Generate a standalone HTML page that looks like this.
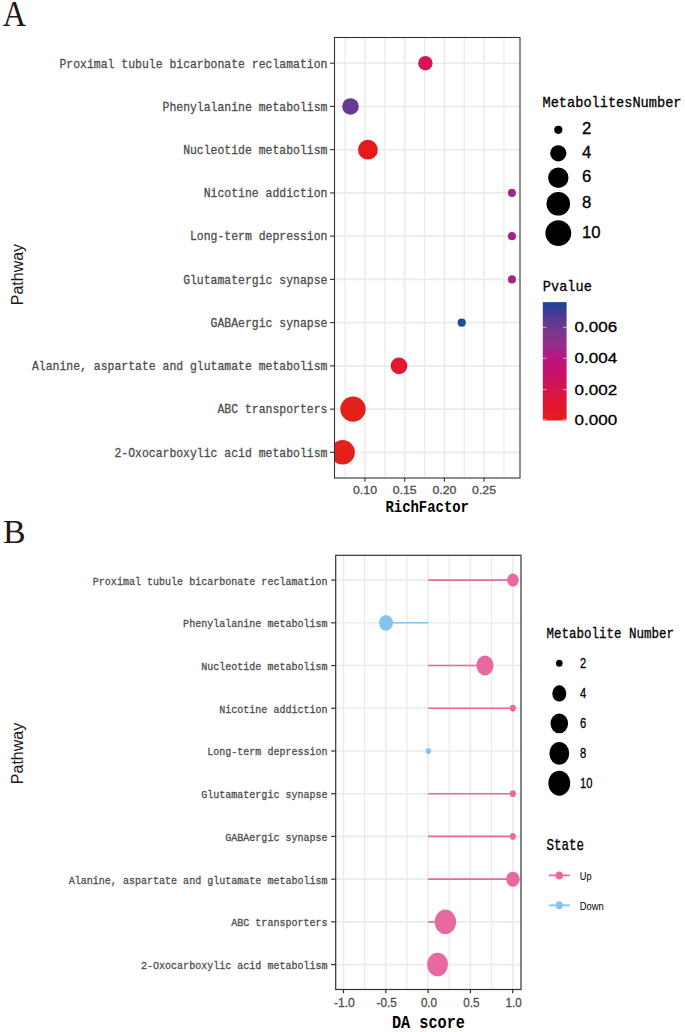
<!DOCTYPE html>
<html><head><meta charset="utf-8"><style>
html,body{margin:0;padding:0;background:#fff;}
body{width:685px;height:1032px;overflow:hidden;}
svg{display:block;}
</style></head><body>
<svg width="685" height="1032" viewBox="0 0 685 1032">
<rect width="685" height="1032" fill="#fff"/>
<text x="2.7" y="25.7" font-family="Liberation Serif, serif" font-size="34.8" fill="#231815" textLength="23.4" lengthAdjust="spacingAndGlyphs">A</text>
<g stroke="#EBEBEB">
<line x1="345.15" y1="37.5" x2="345.15" y2="478.0" stroke-width="1.3"/>
<line x1="384.85" y1="37.5" x2="384.85" y2="478.0" stroke-width="1.3"/>
<line x1="424.55" y1="37.5" x2="424.55" y2="478.0" stroke-width="1.3"/>
<line x1="464.25" y1="37.5" x2="464.25" y2="478.0" stroke-width="1.3"/>
<line x1="503.95" y1="37.5" x2="503.95" y2="478.0" stroke-width="1.3"/>
<line x1="365.00" y1="37.5" x2="365.00" y2="478.0" stroke-width="1.6"/>
<line x1="404.70" y1="37.5" x2="404.70" y2="478.0" stroke-width="1.6"/>
<line x1="444.40" y1="37.5" x2="444.40" y2="478.0" stroke-width="1.6"/>
<line x1="484.10" y1="37.5" x2="484.10" y2="478.0" stroke-width="1.6"/>
<line x1="334.5" y1="63.20" x2="520.0" y2="63.20" stroke-width="1.6"/>
<line x1="334.5" y1="106.44" x2="520.0" y2="106.44" stroke-width="1.6"/>
<line x1="334.5" y1="149.68" x2="520.0" y2="149.68" stroke-width="1.6"/>
<line x1="334.5" y1="192.92" x2="520.0" y2="192.92" stroke-width="1.6"/>
<line x1="334.5" y1="236.16" x2="520.0" y2="236.16" stroke-width="1.6"/>
<line x1="334.5" y1="279.40" x2="520.0" y2="279.40" stroke-width="1.6"/>
<line x1="334.5" y1="322.64" x2="520.0" y2="322.64" stroke-width="1.6"/>
<line x1="334.5" y1="365.88" x2="520.0" y2="365.88" stroke-width="1.6"/>
<line x1="334.5" y1="409.12" x2="520.0" y2="409.12" stroke-width="1.6"/>
<line x1="334.5" y1="452.36" x2="520.0" y2="452.36" stroke-width="1.6"/>
</g>
<clipPath id="cpA"><rect x="334.0" y="37.5" width="186.0" height="440.5"/></clipPath>
<g clip-path="url(#cpA)">
<circle cx="425.4" cy="63.20" r="7.2" fill="#D61650"/>
<circle cx="350.5" cy="106.44" r="8.3" fill="#663A92"/>
<circle cx="367.9" cy="149.68" r="9.9" fill="#E41A1C"/>
<circle cx="511.9" cy="192.92" r="4.05" fill="#A4248A"/>
<circle cx="511.9" cy="236.16" r="4.05" fill="#A4248A"/>
<circle cx="511.9" cy="279.40" r="4.05" fill="#A4248A"/>
<circle cx="461.7" cy="322.64" r="4.1" fill="#1B4A9E"/>
<circle cx="399.0" cy="365.88" r="8.3" fill="#E41830"/>
<circle cx="353.0" cy="409.12" r="12.7" fill="#E4201B"/>
<circle cx="342.65" cy="452.36" r="12.25" fill="#E4201B"/>
</g>
<rect x="334.5" y="37.5" width="185.5" height="440.5" fill="none" stroke="#333333" stroke-width="1.1"/>
<line x1="330" y1="63.20" x2="334.5" y2="63.20" stroke="#333333" stroke-width="1.1"/>
<text x="327.4" y="67.50" font-family="Liberation Mono, monospace" font-size="13.3" fill="#4D4D4D" stroke="#4D4D4D" stroke-width="0.3" text-anchor="end" textLength="267.93" lengthAdjust="spacingAndGlyphs">Proximal tubule bicarbonate reclamation</text>
<line x1="330" y1="106.44" x2="334.5" y2="106.44" stroke="#333333" stroke-width="1.1"/>
<text x="327.4" y="110.74" font-family="Liberation Mono, monospace" font-size="13.3" fill="#4D4D4D" stroke="#4D4D4D" stroke-width="0.3" text-anchor="end" textLength="164.88" lengthAdjust="spacingAndGlyphs">Phenylalanine metabolism</text>
<line x1="330" y1="149.68" x2="334.5" y2="149.68" stroke="#333333" stroke-width="1.1"/>
<text x="327.4" y="153.98" font-family="Liberation Mono, monospace" font-size="13.3" fill="#4D4D4D" stroke="#4D4D4D" stroke-width="0.3" text-anchor="end" textLength="144.27" lengthAdjust="spacingAndGlyphs">Nucleotide metabolism</text>
<line x1="330" y1="192.92" x2="334.5" y2="192.92" stroke="#333333" stroke-width="1.1"/>
<text x="327.4" y="197.22" font-family="Liberation Mono, monospace" font-size="13.3" fill="#4D4D4D" stroke="#4D4D4D" stroke-width="0.3" text-anchor="end" textLength="123.66" lengthAdjust="spacingAndGlyphs">Nicotine addiction</text>
<line x1="330" y1="236.16" x2="334.5" y2="236.16" stroke="#333333" stroke-width="1.1"/>
<text x="327.4" y="240.46" font-family="Liberation Mono, monospace" font-size="13.3" fill="#4D4D4D" stroke="#4D4D4D" stroke-width="0.3" text-anchor="end" textLength="137.40" lengthAdjust="spacingAndGlyphs">Long-term depression</text>
<line x1="330" y1="279.40" x2="334.5" y2="279.40" stroke="#333333" stroke-width="1.1"/>
<text x="327.4" y="283.70" font-family="Liberation Mono, monospace" font-size="13.3" fill="#4D4D4D" stroke="#4D4D4D" stroke-width="0.3" text-anchor="end" textLength="144.27" lengthAdjust="spacingAndGlyphs">Glutamatergic synapse</text>
<line x1="330" y1="322.64" x2="334.5" y2="322.64" stroke="#333333" stroke-width="1.1"/>
<text x="327.4" y="326.94" font-family="Liberation Mono, monospace" font-size="13.3" fill="#4D4D4D" stroke="#4D4D4D" stroke-width="0.3" text-anchor="end" textLength="116.79" lengthAdjust="spacingAndGlyphs">GABAergic synapse</text>
<line x1="330" y1="365.88" x2="334.5" y2="365.88" stroke="#333333" stroke-width="1.1"/>
<text x="327.4" y="370.18" font-family="Liberation Mono, monospace" font-size="13.3" fill="#4D4D4D" stroke="#4D4D4D" stroke-width="0.3" text-anchor="end" textLength="295.41" lengthAdjust="spacingAndGlyphs">Alanine, aspartate and glutamate metabolism</text>
<line x1="330" y1="409.12" x2="334.5" y2="409.12" stroke="#333333" stroke-width="1.1"/>
<text x="327.4" y="413.42" font-family="Liberation Mono, monospace" font-size="13.3" fill="#4D4D4D" stroke="#4D4D4D" stroke-width="0.3" text-anchor="end" textLength="109.92" lengthAdjust="spacingAndGlyphs">ABC transporters</text>
<line x1="330" y1="452.36" x2="334.5" y2="452.36" stroke="#333333" stroke-width="1.1"/>
<text x="327.4" y="456.66" font-family="Liberation Mono, monospace" font-size="13.3" fill="#4D4D4D" stroke="#4D4D4D" stroke-width="0.3" text-anchor="end" textLength="212.97" lengthAdjust="spacingAndGlyphs">2-Oxocarboxylic acid metabolism</text>
<line x1="365.00" y1="478.0" x2="365.00" y2="481.8" stroke="#333333" stroke-width="1.1"/>
<text x="365.00" y="493.6" font-family="Liberation Sans, sans-serif" font-size="11.8" fill="#4D4D4D" stroke="#4D4D4D" stroke-width="0.3" text-anchor="middle" textLength="24" lengthAdjust="spacingAndGlyphs">0.10</text>
<line x1="404.70" y1="478.0" x2="404.70" y2="481.8" stroke="#333333" stroke-width="1.1"/>
<text x="404.70" y="493.6" font-family="Liberation Sans, sans-serif" font-size="11.8" fill="#4D4D4D" stroke="#4D4D4D" stroke-width="0.3" text-anchor="middle" textLength="24" lengthAdjust="spacingAndGlyphs">0.15</text>
<line x1="444.40" y1="478.0" x2="444.40" y2="481.8" stroke="#333333" stroke-width="1.1"/>
<text x="444.40" y="493.6" font-family="Liberation Sans, sans-serif" font-size="11.8" fill="#4D4D4D" stroke="#4D4D4D" stroke-width="0.3" text-anchor="middle" textLength="24" lengthAdjust="spacingAndGlyphs">0.20</text>
<line x1="484.10" y1="478.0" x2="484.10" y2="481.8" stroke="#333333" stroke-width="1.1"/>
<text x="484.10" y="493.6" font-family="Liberation Sans, sans-serif" font-size="11.8" fill="#4D4D4D" stroke="#4D4D4D" stroke-width="0.3" text-anchor="middle" textLength="24" lengthAdjust="spacingAndGlyphs">0.25</text>
<text x="427.2" y="511.9" font-family="Liberation Mono, monospace" font-weight="bold" font-size="16" fill="#000" text-anchor="middle" textLength="83.5" lengthAdjust="spacingAndGlyphs">RichFactor</text>
<text transform="translate(22.6,274.6) rotate(-90)" font-family="Liberation Sans, sans-serif" font-size="16" fill="#1a1a1a" text-anchor="middle">Pathway</text>
<text x="542.5" y="107" font-family="Liberation Mono, monospace" font-size="14.6" fill="#000" stroke="#000" stroke-width="0.3" textLength="139" lengthAdjust="spacingAndGlyphs">MetabolitesNumber</text>
<circle cx="558.3" cy="129.8" r="4.1" fill="#000"/>
<text x="581.9" y="134.10" font-family="Liberation Sans, sans-serif" font-size="15.6" fill="#000" stroke="#000" stroke-width="0.3" textLength="9.30" lengthAdjust="spacingAndGlyphs">2</text>
<circle cx="558.3" cy="153.3" r="8.1" fill="#000"/>
<text x="581.9" y="157.60" font-family="Liberation Sans, sans-serif" font-size="15.6" fill="#000" stroke="#000" stroke-width="0.3" textLength="9.30" lengthAdjust="spacingAndGlyphs">4</text>
<circle cx="558.3" cy="177.8" r="10.2" fill="#000"/>
<text x="581.9" y="182.10" font-family="Liberation Sans, sans-serif" font-size="15.6" fill="#000" stroke="#000" stroke-width="0.3" textLength="9.30" lengthAdjust="spacingAndGlyphs">6</text>
<circle cx="558.3" cy="203.8" r="11.8" fill="#000"/>
<text x="581.9" y="208.10" font-family="Liberation Sans, sans-serif" font-size="15.6" fill="#000" stroke="#000" stroke-width="0.3" textLength="9.30" lengthAdjust="spacingAndGlyphs">8</text>
<circle cx="558.3" cy="233.2" r="12.9" fill="#000"/>
<text x="581.9" y="237.50" font-family="Liberation Sans, sans-serif" font-size="15.6" fill="#000" stroke="#000" stroke-width="0.3" textLength="18.60" lengthAdjust="spacingAndGlyphs">10</text>
<text x="542.8" y="290.9" font-family="Liberation Mono, monospace" font-size="14.6" fill="#000" stroke="#000" stroke-width="0.3" textLength="49" lengthAdjust="spacingAndGlyphs">Pvalue</text>
<defs><linearGradient id="pg" x1="0" y1="0" x2="0" y2="1">
<stop offset="0.0034" stop-color="rgb(30, 70, 155)"/>
<stop offset="0.0498" stop-color="rgb(45, 65, 150)"/>
<stop offset="0.0921" stop-color="rgb(65, 60, 148)"/>
<stop offset="0.1343" stop-color="rgb(85, 58, 148)"/>
<stop offset="0.1765" stop-color="rgb(98, 56, 145)"/>
<stop offset="0.2356" stop-color="rgb(118, 56, 142)"/>
<stop offset="0.3201" stop-color="rgb(138, 48, 140)"/>
<stop offset="0.3623" stop-color="rgb(150, 45, 140)"/>
<stop offset="0.4468" stop-color="rgb(178, 28, 132)"/>
<stop offset="0.5228" stop-color="rgb(190, 18, 122)"/>
<stop offset="0.6157" stop-color="rgb(202, 18, 104)"/>
<stop offset="0.7002" stop-color="rgb(210, 20, 85)"/>
<stop offset="0.7846" stop-color="rgb(218, 22, 65)"/>
<stop offset="0.8522" stop-color="rgb(225, 22, 50)"/>
<stop offset="0.9282" stop-color="rgb(227, 25, 40)"/>
<stop offset="1.0000" stop-color="rgb(230, 30, 30)"/>
</linearGradient></defs>
<rect x="542.8" y="302.1" width="23.8" height="118.40" fill="url(#pg)"/>
<line x1="542.8" y1="327.3" x2="546.5" y2="327.3" stroke="#fff" stroke-opacity="0.6" stroke-width="1"/>
<line x1="562.9" y1="327.3" x2="566.6" y2="327.3" stroke="#fff" stroke-opacity="0.6" stroke-width="1"/>
<text x="574.6" y="332.30" font-family="Liberation Sans, sans-serif" font-size="15.2" fill="#000" stroke="#000" stroke-width="0.3" textLength="42.6" lengthAdjust="spacingAndGlyphs">0.006</text>
<line x1="542.8" y1="358.3" x2="546.5" y2="358.3" stroke="#fff" stroke-opacity="0.6" stroke-width="1"/>
<line x1="562.9" y1="358.3" x2="566.6" y2="358.3" stroke="#fff" stroke-opacity="0.6" stroke-width="1"/>
<text x="574.6" y="363.30" font-family="Liberation Sans, sans-serif" font-size="15.2" fill="#000" stroke="#000" stroke-width="0.3" textLength="42.6" lengthAdjust="spacingAndGlyphs">0.004</text>
<line x1="542.8" y1="389.6" x2="546.5" y2="389.6" stroke="#fff" stroke-opacity="0.6" stroke-width="1"/>
<line x1="562.9" y1="389.6" x2="566.6" y2="389.6" stroke="#fff" stroke-opacity="0.6" stroke-width="1"/>
<text x="574.6" y="394.60" font-family="Liberation Sans, sans-serif" font-size="15.2" fill="#000" stroke="#000" stroke-width="0.3" textLength="42.6" lengthAdjust="spacingAndGlyphs">0.002</text>
<line x1="542.8" y1="419.6" x2="546.5" y2="419.6" stroke="#fff" stroke-opacity="0.6" stroke-width="1"/>
<line x1="562.9" y1="419.6" x2="566.6" y2="419.6" stroke="#fff" stroke-opacity="0.6" stroke-width="1"/>
<text x="574.6" y="424.60" font-family="Liberation Sans, sans-serif" font-size="15.2" fill="#000" stroke="#000" stroke-width="0.3" textLength="42.6" lengthAdjust="spacingAndGlyphs">0.000</text>
<text x="2.9" y="542.7" font-family="Liberation Serif, serif" font-size="33.6" fill="#231815" textLength="22.6" lengthAdjust="spacingAndGlyphs">B</text>
<g stroke="#EBEBEB">
<line x1="364.65" y1="555.3" x2="364.65" y2="989.5" stroke-width="1.3"/>
<line x1="406.95" y1="555.3" x2="406.95" y2="989.5" stroke-width="1.3"/>
<line x1="449.25" y1="555.3" x2="449.25" y2="989.5" stroke-width="1.3"/>
<line x1="491.55" y1="555.3" x2="491.55" y2="989.5" stroke-width="1.3"/>
<line x1="343.50" y1="555.3" x2="343.50" y2="989.5" stroke-width="1.6"/>
<line x1="385.80" y1="555.3" x2="385.80" y2="989.5" stroke-width="1.6"/>
<line x1="428.10" y1="555.3" x2="428.10" y2="989.5" stroke-width="1.6"/>
<line x1="470.40" y1="555.3" x2="470.40" y2="989.5" stroke-width="1.6"/>
<line x1="512.70" y1="555.3" x2="512.70" y2="989.5" stroke-width="1.6"/>
<line x1="335.7" y1="580.10" x2="521.0" y2="580.10" stroke-width="1.6"/>
<line x1="335.7" y1="622.82" x2="521.0" y2="622.82" stroke-width="1.6"/>
<line x1="335.7" y1="665.54" x2="521.0" y2="665.54" stroke-width="1.6"/>
<line x1="335.7" y1="708.26" x2="521.0" y2="708.26" stroke-width="1.6"/>
<line x1="335.7" y1="750.98" x2="521.0" y2="750.98" stroke-width="1.6"/>
<line x1="335.7" y1="793.70" x2="521.0" y2="793.70" stroke-width="1.6"/>
<line x1="335.7" y1="836.42" x2="521.0" y2="836.42" stroke-width="1.6"/>
<line x1="335.7" y1="879.14" x2="521.0" y2="879.14" stroke-width="1.6"/>
<line x1="335.7" y1="921.86" x2="521.0" y2="921.86" stroke-width="1.6"/>
<line x1="335.7" y1="964.58" x2="521.0" y2="964.58" stroke-width="1.6"/>
</g>
<line x1="428.1" y1="580.10" x2="512.9" y2="580.10" stroke="#E868A0" stroke-width="1.6"/>
<ellipse cx="512.9" cy="580.10" rx="5.8" ry="6.5" fill="#E868A0"/>
<line x1="428.1" y1="622.82" x2="386.0" y2="622.82" stroke="#86C4EC" stroke-width="1.6"/>
<ellipse cx="386.0" cy="622.82" rx="7.0" ry="7.9" fill="#86C4EC"/>
<line x1="428.1" y1="665.54" x2="485.0" y2="665.54" stroke="#E868A0" stroke-width="1.6"/>
<ellipse cx="485.0" cy="665.54" rx="8.55" ry="9.95" fill="#E868A0"/>
<line x1="428.1" y1="708.26" x2="512.9" y2="708.26" stroke="#E868A0" stroke-width="1.6"/>
<ellipse cx="512.9" cy="708.26" rx="3.0" ry="3.4" fill="#E868A0"/>
<line x1="428.1" y1="750.98" x2="428.4" y2="750.98" stroke="#86C4EC" stroke-width="1.6"/>
<ellipse cx="428.4" cy="750.98" rx="2.7" ry="3.0" fill="#86C4EC"/>
<line x1="428.1" y1="793.70" x2="512.9" y2="793.70" stroke="#E868A0" stroke-width="1.6"/>
<ellipse cx="512.9" cy="793.70" rx="3.0" ry="3.4" fill="#E868A0"/>
<line x1="428.1" y1="836.42" x2="512.9" y2="836.42" stroke="#E868A0" stroke-width="1.6"/>
<ellipse cx="512.9" cy="836.42" rx="3.0" ry="3.4" fill="#E868A0"/>
<line x1="428.1" y1="879.14" x2="512.9" y2="879.14" stroke="#E868A0" stroke-width="1.6"/>
<ellipse cx="512.9" cy="879.14" rx="6.75" ry="7.5" fill="#E868A0"/>
<line x1="428.1" y1="921.86" x2="445.4" y2="921.86" stroke="#E868A0" stroke-width="1.6"/>
<ellipse cx="445.4" cy="921.86" rx="10.7" ry="12.35" fill="#E868A0"/>
<line x1="428.1" y1="964.58" x2="437.6" y2="964.58" stroke="#E868A0" stroke-width="1.6"/>
<ellipse cx="437.6" cy="964.58" rx="10.4" ry="11.75" fill="#E868A0"/>
<rect x="335.7" y="555.3" width="185.30" height="434.20" fill="none" stroke="#333333" stroke-width="1.2"/>
<line x1="331.1" y1="580.10" x2="335.7" y2="580.10" stroke="#333333" stroke-width="1.2"/>
<text x="327.6" y="584.60" font-family="Liberation Mono, monospace" font-size="11.8" fill="#4D4D4D" stroke="#4D4D4D" stroke-width="0.3" text-anchor="end" textLength="234.78" lengthAdjust="spacingAndGlyphs">Proximal tubule bicarbonate reclamation</text>
<line x1="331.1" y1="622.82" x2="335.7" y2="622.82" stroke="#333333" stroke-width="1.2"/>
<text x="327.6" y="627.32" font-family="Liberation Mono, monospace" font-size="11.8" fill="#4D4D4D" stroke="#4D4D4D" stroke-width="0.3" text-anchor="end" textLength="144.48" lengthAdjust="spacingAndGlyphs">Phenylalanine metabolism</text>
<line x1="331.1" y1="665.54" x2="335.7" y2="665.54" stroke="#333333" stroke-width="1.2"/>
<text x="327.6" y="670.04" font-family="Liberation Mono, monospace" font-size="11.8" fill="#4D4D4D" stroke="#4D4D4D" stroke-width="0.3" text-anchor="end" textLength="126.42" lengthAdjust="spacingAndGlyphs">Nucleotide metabolism</text>
<line x1="331.1" y1="708.26" x2="335.7" y2="708.26" stroke="#333333" stroke-width="1.2"/>
<text x="327.6" y="712.76" font-family="Liberation Mono, monospace" font-size="11.8" fill="#4D4D4D" stroke="#4D4D4D" stroke-width="0.3" text-anchor="end" textLength="108.36" lengthAdjust="spacingAndGlyphs">Nicotine addiction</text>
<line x1="331.1" y1="750.98" x2="335.7" y2="750.98" stroke="#333333" stroke-width="1.2"/>
<text x="327.6" y="755.48" font-family="Liberation Mono, monospace" font-size="11.8" fill="#4D4D4D" stroke="#4D4D4D" stroke-width="0.3" text-anchor="end" textLength="120.40" lengthAdjust="spacingAndGlyphs">Long-term depression</text>
<line x1="331.1" y1="793.70" x2="335.7" y2="793.70" stroke="#333333" stroke-width="1.2"/>
<text x="327.6" y="798.20" font-family="Liberation Mono, monospace" font-size="11.8" fill="#4D4D4D" stroke="#4D4D4D" stroke-width="0.3" text-anchor="end" textLength="126.42" lengthAdjust="spacingAndGlyphs">Glutamatergic synapse</text>
<line x1="331.1" y1="836.42" x2="335.7" y2="836.42" stroke="#333333" stroke-width="1.2"/>
<text x="327.6" y="840.92" font-family="Liberation Mono, monospace" font-size="11.8" fill="#4D4D4D" stroke="#4D4D4D" stroke-width="0.3" text-anchor="end" textLength="102.34" lengthAdjust="spacingAndGlyphs">GABAergic synapse</text>
<line x1="331.1" y1="879.14" x2="335.7" y2="879.14" stroke="#333333" stroke-width="1.2"/>
<text x="327.6" y="883.64" font-family="Liberation Mono, monospace" font-size="11.8" fill="#4D4D4D" stroke="#4D4D4D" stroke-width="0.3" text-anchor="end" textLength="258.86" lengthAdjust="spacingAndGlyphs">Alanine, aspartate and glutamate metabolism</text>
<line x1="331.1" y1="921.86" x2="335.7" y2="921.86" stroke="#333333" stroke-width="1.2"/>
<text x="327.6" y="926.36" font-family="Liberation Mono, monospace" font-size="11.8" fill="#4D4D4D" stroke="#4D4D4D" stroke-width="0.3" text-anchor="end" textLength="96.32" lengthAdjust="spacingAndGlyphs">ABC transporters</text>
<line x1="331.1" y1="964.58" x2="335.7" y2="964.58" stroke="#333333" stroke-width="1.2"/>
<text x="327.6" y="969.08" font-family="Liberation Mono, monospace" font-size="11.8" fill="#4D4D4D" stroke="#4D4D4D" stroke-width="0.3" text-anchor="end" textLength="186.62" lengthAdjust="spacingAndGlyphs">2-Oxocarboxylic acid metabolism</text>
<line x1="343.50" y1="989.5" x2="343.50" y2="993.3" stroke="#333333" stroke-width="1.2"/>
<text x="344.40" y="1006.5" font-family="Liberation Sans, sans-serif" font-size="12.4" fill="#4D4D4D" stroke="#4D4D4D" stroke-width="0.3" text-anchor="middle" textLength="21.00" lengthAdjust="spacingAndGlyphs">-1.0</text>
<line x1="385.80" y1="989.5" x2="385.80" y2="993.3" stroke="#333333" stroke-width="1.2"/>
<text x="386.70" y="1006.5" font-family="Liberation Sans, sans-serif" font-size="12.4" fill="#4D4D4D" stroke="#4D4D4D" stroke-width="0.3" text-anchor="middle" textLength="20.20" lengthAdjust="spacingAndGlyphs">-0.5</text>
<line x1="428.10" y1="989.5" x2="428.10" y2="993.3" stroke="#333333" stroke-width="1.2"/>
<text x="429.00" y="1006.5" font-family="Liberation Sans, sans-serif" font-size="12.4" fill="#4D4D4D" stroke="#4D4D4D" stroke-width="0.3" text-anchor="middle" textLength="16.20" lengthAdjust="spacingAndGlyphs">0.0</text>
<line x1="470.40" y1="989.5" x2="470.40" y2="993.3" stroke="#333333" stroke-width="1.2"/>
<text x="471.30" y="1006.5" font-family="Liberation Sans, sans-serif" font-size="12.4" fill="#4D4D4D" stroke="#4D4D4D" stroke-width="0.3" text-anchor="middle" textLength="16.20" lengthAdjust="spacingAndGlyphs">0.5</text>
<line x1="512.70" y1="989.5" x2="512.70" y2="993.3" stroke="#333333" stroke-width="1.2"/>
<text x="513.60" y="1006.5" font-family="Liberation Sans, sans-serif" font-size="12.4" fill="#4D4D4D" stroke="#4D4D4D" stroke-width="0.3" text-anchor="middle" textLength="16.20" lengthAdjust="spacingAndGlyphs">1.0</text>
<text x="428.4" y="1027.9" font-family="Liberation Mono, monospace" font-weight="bold" font-size="18.8" fill="#000" text-anchor="middle" textLength="73" lengthAdjust="spacingAndGlyphs">DA score</text>
<text transform="translate(22.8,753.5) rotate(-90)" font-family="Liberation Sans, sans-serif" font-size="16" fill="#1a1a1a" text-anchor="middle">Pathway</text>
<text x="546.5" y="637.6" font-family="Liberation Mono, monospace" font-size="15" fill="#000" stroke="#000" stroke-width="0.3" textLength="127.5" lengthAdjust="spacingAndGlyphs">Metabolite Number</text>
<ellipse cx="559.3" cy="663.2" rx="3.3" ry="3.5" fill="#000"/>
<text x="580.1" y="667.60" font-family="Liberation Sans, sans-serif" font-size="13.9" fill="#000" stroke="#000" stroke-width="0.3" textLength="6.20" lengthAdjust="spacingAndGlyphs">2</text>
<ellipse cx="559.3" cy="693.4" rx="7.0" ry="8.1" fill="#000"/>
<text x="580.1" y="697.80" font-family="Liberation Sans, sans-serif" font-size="13.9" fill="#000" stroke="#000" stroke-width="0.3" textLength="6.20" lengthAdjust="spacingAndGlyphs">4</text>
<ellipse cx="559.3" cy="723.4" rx="8.8" ry="9.9" fill="#000"/>
<text x="580.1" y="727.80" font-family="Liberation Sans, sans-serif" font-size="13.9" fill="#000" stroke="#000" stroke-width="0.3" textLength="6.20" lengthAdjust="spacingAndGlyphs">6</text>
<ellipse cx="559.3" cy="753.4" rx="9.9" ry="11.4" fill="#000"/>
<text x="580.1" y="757.80" font-family="Liberation Sans, sans-serif" font-size="13.9" fill="#000" stroke="#000" stroke-width="0.3" textLength="6.20" lengthAdjust="spacingAndGlyphs">8</text>
<ellipse cx="559.3" cy="783.2" rx="10.9" ry="12.5" fill="#000"/>
<text x="580.1" y="787.60" font-family="Liberation Sans, sans-serif" font-size="13.9" fill="#000" stroke="#000" stroke-width="0.3" textLength="12.40" lengthAdjust="spacingAndGlyphs">10</text>
<text x="546.5" y="849.8" font-family="Liberation Mono, monospace" font-size="16.4" fill="#000" stroke="#000" stroke-width="0.3" textLength="37.5" lengthAdjust="spacingAndGlyphs">State</text>
<line x1="548.8" y1="875.4" x2="569.8" y2="875.4" stroke="#E868A0" stroke-width="1.8"/>
<ellipse cx="559.3" cy="875.4" rx="3.6" ry="4.0" fill="#E868A0"/>
<text x="579.8" y="879.70" font-family="Liberation Sans, sans-serif" font-size="11.6" fill="#000" textLength="11.8" lengthAdjust="spacingAndGlyphs">Up</text>
<line x1="548.8" y1="905.3" x2="569.8" y2="905.3" stroke="#86C4EC" stroke-width="1.8"/>
<ellipse cx="559.3" cy="905.3" rx="3.6" ry="4.0" fill="#86C4EC"/>
<text x="579.8" y="909.60" font-family="Liberation Sans, sans-serif" font-size="11.6" fill="#000" textLength="24" lengthAdjust="spacingAndGlyphs">Down</text>
</svg>
</body></html>
